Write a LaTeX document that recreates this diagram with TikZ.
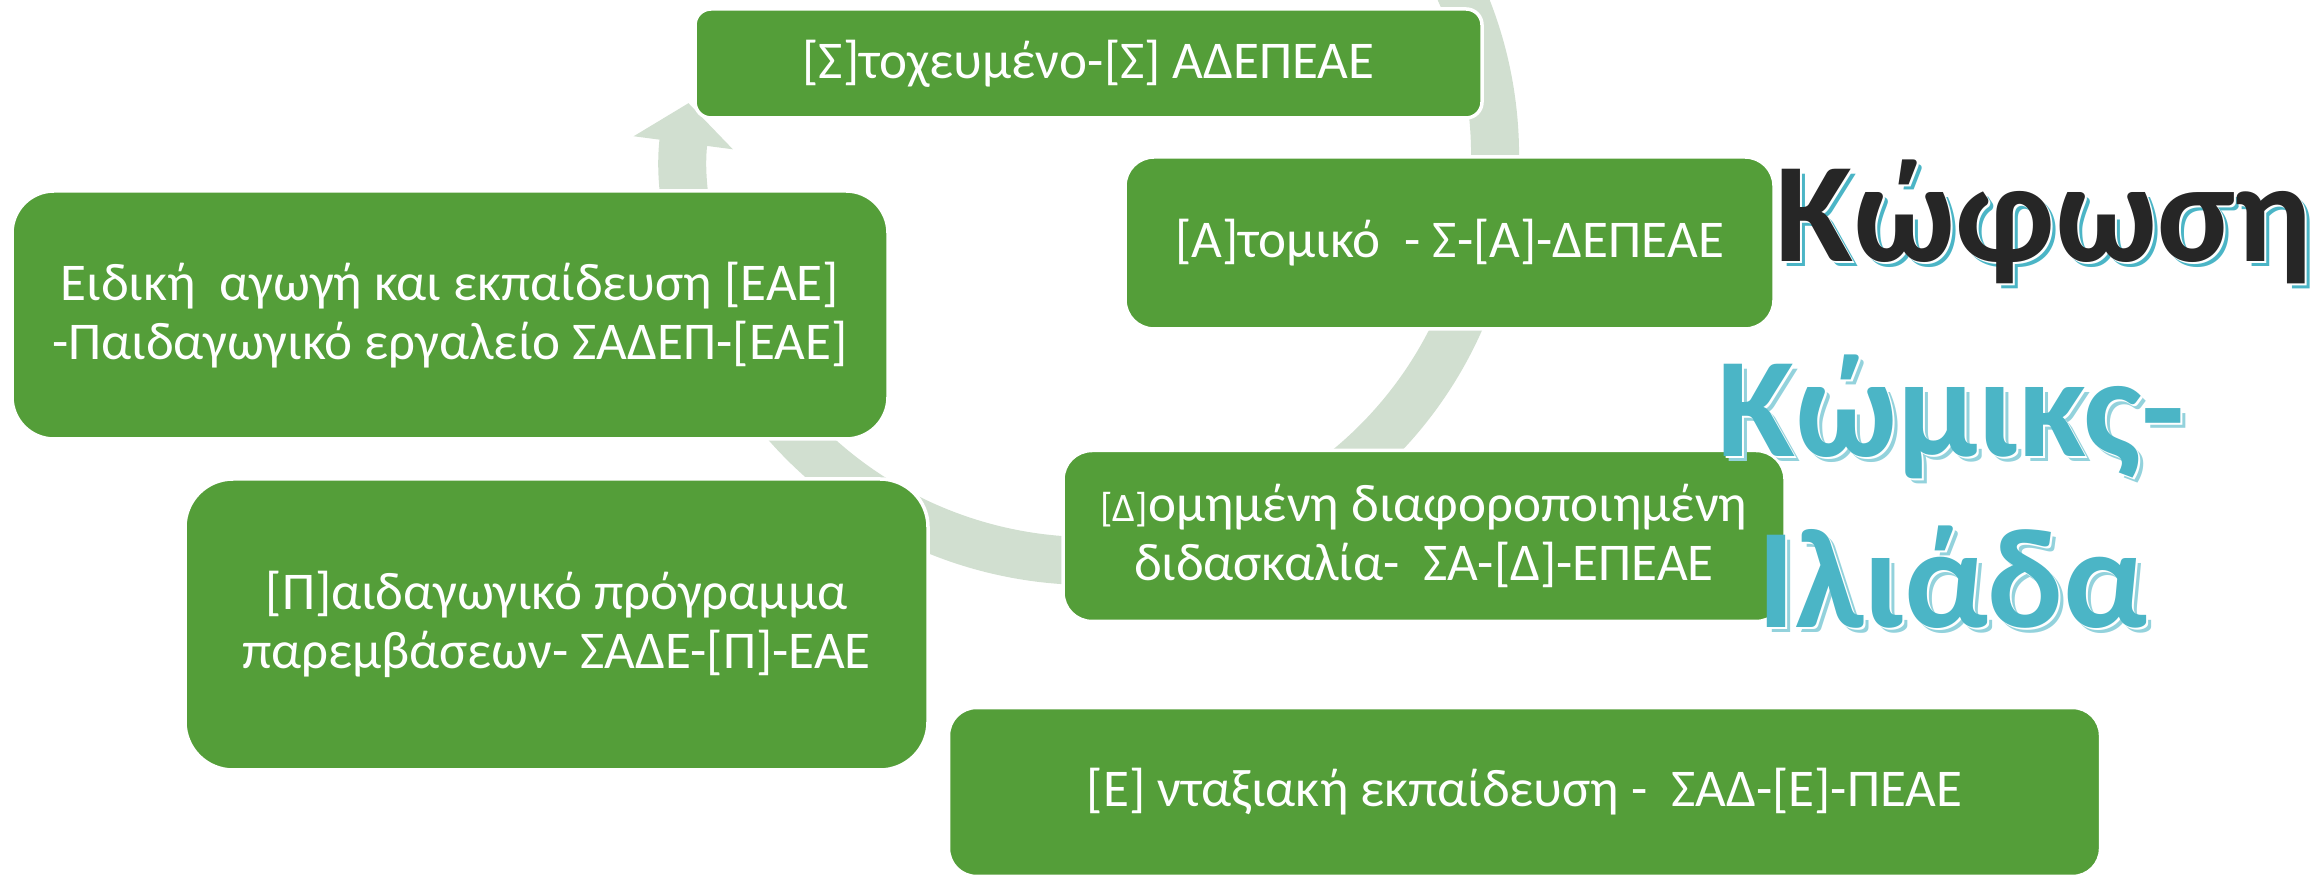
\documentclass[tikz,border=0pt]{standalone}
\usepackage{fontspec}
\setmainfont{Carlito}
\usetikzlibrary{arrows.meta}

\definecolor{boxgreen}{HTML}{549E39}
\definecolor{cyclegray}{HTML}{D1DFD0}
\definecolor{titlecyan}{HTML}{4BB5C6}
\definecolor{shadecyan}{HTML}{93D2DC}
\definecolor{titleblack}{HTML}{262626}

\begin{document}
\begin{tikzpicture}[
  box/.style={rectangle, fill=boxgreen, draw=white, line width=1pt, text=white, align=center, inner sep=0pt, font=\fontsize{15.1}{16.8}\selectfont},
  title/.style={anchor=base west, inner sep=0pt, font=\fontsize{40.5}{45}\selectfont\bfseries}
]
\useasboundingbox (0,0) rectangle (23.22,8.78);
\clip (0,0) rectangle (23.22,8.78);

% Cycle arrow behind the boxes
\coordinate (cyc) at (10.90,7.22);
\draw[cyclegray, line width=0.48cm, -{Triangle[width=0.98cm, length=0.4cm]}] (cyc) ++(30:4.05) arc[start angle=30, end angle=-187.5, radius=4.05cm];

% Five steps as boxes
\node[box, minimum width=7.87cm, minimum height=1.09cm, rounded corners=0.16cm] (stoxos) at (10.885,8.145) {[Σ]τοχευμένο-[Σ] ΑΔΕΠΕΑΕ};
\node[box, minimum width=6.49cm, minimum height=1.72cm, rounded corners=0.29cm] (atomo) at (14.495,6.35) {[Α]τομικό\ \ - Σ-[Α]-ΔΕΠΕΑΕ};
\node[box, minimum width=8.76cm, minimum height=2.48cm, rounded corners=0.42cm] (eae) at (4.50,5.63) {Ειδική\ \ αγωγή και εκπαίδευση [ΕΑΕ]\\-Παιδαγωγικό εργαλείο ΣΑΔΕΠ-[ΕΑΕ]};
\node[box, minimum width=7.22cm, minimum height=1.71cm, rounded corners=0.29cm] (domi) at (14.24,3.42) {{\fontsize{11.5}{13}\selectfont[Δ]}ομημένη διαφοροποιημένη\\διδασκαλία-\ \ ΣΑ-[Δ]-ΕΠΕΑΕ};
\node[box, minimum width=7.43cm, minimum height=2.91cm, rounded corners=0.48cm] (paid) at (5.565,2.535) {[Π]αιδαγωγικό πρόγραμμα\\παρεμβάσεων- ΣΑΔΕ-[Π]-ΕΑΕ};
\node[box, minimum width=11.52cm, minimum height=1.69cm, rounded corners=0.28cm] (entaxi) at (15.245,0.86) {[Ε] νταξιακή εκπαίδευση -\ \ ΣΑΔ-[Ε]-ΠΕΑΕ};

% Title words with shadow
\node[title, text=titlecyan] (kofosi-sh) at (17.80,6.11) {Κώφωση};
\node[title, text=white] (kofosi-wh) at (17.77,6.14) {Κώφωση};
\node[title, text=titleblack] (kofosi) at (17.75,6.16) {Κώφωση};

\node[title, text=shadecyan] (komiks-sh) at (17.22,4.16) {Κώμικς-};
\node[title, text=white] (komiks-wh) at (17.19,4.19) {Κώμικς-};
\node[title, text=titlecyan] (komiks) at (17.17,4.21) {Κώμικς-};

\node[title, text=shadecyan] (iliada-sh) at (17.62,2.45) {Ιλιάδα};
\node[title, text=white] (iliada-wh) at (17.59,2.48) {Ιλιάδα};
\node[title, text=titlecyan] (iliada) at (17.57,2.50) {Ιλιάδα};

\end{tikzpicture}
\end{document}
